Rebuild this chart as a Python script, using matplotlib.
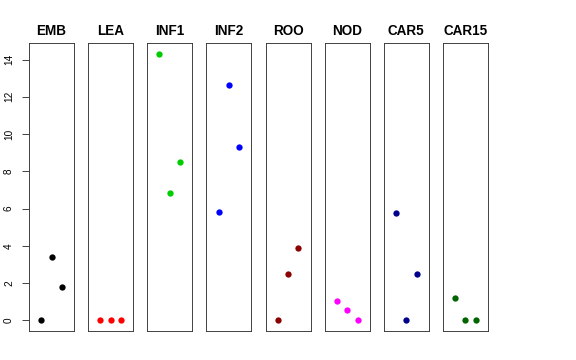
import matplotlib
matplotlib.use("Agg")
import matplotlib.pyplot as plt

# tissues and the three values in each panel
tissues = ["EMB", "LEA", "INF1", "INF2", "ROO", "NOD", "CAR5", "CAR15"]
emb = [0.0, 3.41, 1.77]
lea = [0.0, 0.0, 0.0]
inf1 = [14.3, 6.81, 8.48]
inf2 = [5.83, 12.61, 9.33]
roo = [0.0, 2.47, 3.88]
nod = [1.04, 0.57, 0.0]
car5 = [5.77, 0.0, 2.50]
car15 = [1.20, 0.0, 0.0]
colors = ["black", "#FF0000", "#00CD00", "#0000FF", "#8B0000", "#FF00FF", "#00008B", "#006400"]
xpos = [1, 2, 3]
yticks = [0, 2, 4, 6, 8, 10, 12, 14]

values = [emb, lea, inf1, inf2, roo, nod, car5, car15]

plt.rcParams['font.family'] = ['Liberation Sans', 'DejaVu Sans']

W, H = 576, 360
fig = plt.figure(figsize=(W / 72, H / 72), dpi=72)

ymax = max(max(v) for v in values)
pad = 0.04 * ymax

for i, (name, vals, col) in enumerate(zip(tissues, values, colors)):
    left = 29 + 59.14 * i
    ax = fig.add_axes([left / W, (H - 331) / H, 45 / W, 287.7 / H])
    ax.plot(xpos, vals, 'o', color=col, markersize=6.3, markeredgewidth=0)
    ax.set_xlim(-0.16, 4.16)
    ax.set_ylim(-pad, ymax + pad)
    ax.set_xticks([])
    for s in ax.spines.values():
        s.set_linewidth(0.9)
        s.set_color("#333333")
    ax.set_title(name, fontsize=13.5, fontweight="bold", pad=8)
    if i == 0:
        ax.set_yticks(yticks)
        ax.set_yticklabels([str(t) for t in yticks], rotation=90, va="center", fontsize=10)
        ax.tick_params(axis="y", length=7, width=0.9, pad=8, color="#333333")
    else:
        ax.set_yticks([])

fig.savefig("out.png", dpi=72)
